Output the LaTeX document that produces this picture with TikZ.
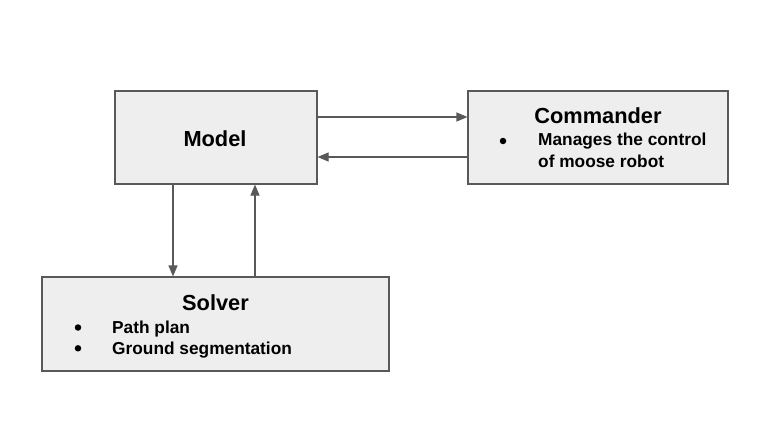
\documentclass[tikz,border=0pt]{standalone}
\usepackage{fontspec}
\setmainfont{Liberation Sans}
\usetikzlibrary{arrows.meta}
\definecolor{boxfill}{HTML}{EEEEEE}
\definecolor{edge}{HTML}{595959}
\tikzset{
  box/.style={draw=edge, fill=boxfill, line width=1.1pt, rectangle, inner sep=0pt},
  title/.style={font=\bfseries\fontsize{21.8}{25}\selectfont, inner sep=0pt, anchor=base},
  item/.style={font=\bfseries\fontsize{17.3}{21.6}\selectfont, inner sep=0pt, anchor=base west},
  dot/.style={circle, fill=black, inner sep=0pt, minimum size=6.5pt},
  arr/.style={draw=edge, line width=1.1pt, -{Triangle[length=11pt,width=9pt]}}
}
\begin{document}
\begin{tikzpicture}[x=1pt,y=-1pt]
\useasboundingbox (0,0) rectangle (768,423);
\node[box, minimum width=202pt, minimum height=93pt] (model) at (216,137.5) {};
\node[box, minimum width=260pt, minimum height=93pt] (cmd) at (598,137.5) {};
\node[box, minimum width=347pt, minimum height=94pt] (solver) at (215.5,324) {};
\node[title] (tmodel) at (215,146) {Model};
\node[title] (tcmd) at (598,123.3) {Commander};
\node[dot] (b1) at (503,141) {};
\node[item] (i1) at (538,145.7) {Manages the control};
\node[item] (i1b) at (538,167.3) {of moose robot};
\node[title] (tsolver) at (215.5,310.7) {Solver};
\node[dot] (b2) at (78,327.5) {};
\node[item] (i2) at (112,333) {Path plan};
\node[dot] (b3) at (78,348.3) {};
\node[item] (i3) at (112,354) {Ground segmentation};
\draw[arr] ([yshift=20.5pt]model.east) -- ([yshift=20.5pt]model.east -| cmd.west);
\draw[arr] ([yshift=-19.5pt]cmd.west) -- ([yshift=-19.5pt]cmd.west -| model.east);
\draw[arr] ([xshift=-43pt]model.south) -- ([xshift=-43pt]model.south |- solver.north);
\draw[arr] ([xshift=39pt]model.south |- solver.north) -- ([xshift=39pt]model.south);
\end{tikzpicture}
\end{document}
